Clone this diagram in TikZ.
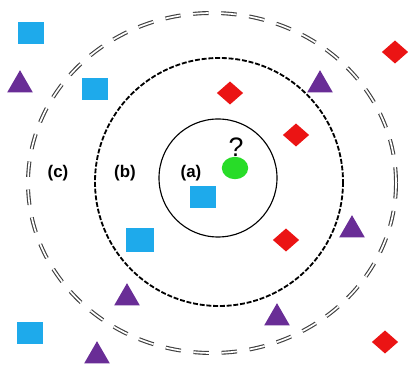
\documentclass[tikz,border=0pt]{standalone}
\usepackage{fontspec}
\setmainfont{Liberation Sans}
\usepackage{tikz}
\usetikzlibrary{shapes.geometric}

\definecolor{skyb}{RGB}{30,170,235}
\definecolor{redd}{RGB}{235,20,20}
\definecolor{purp}{RGB}{105,45,150}
\definecolor{limeg}{RGB}{40,220,40}

\tikzset{
  sq/.style={rectangle, fill=skyb, inner sep=0pt, minimum width=0.66cm, minimum height=0.56cm},
  dm/.style={diamond, fill=redd, inner sep=0pt, minimum width=0.66cm, minimum height=0.58cm},
  tri/.style={regular polygon, regular polygon sides=3, fill=purp, inner sep=0pt, minimum size=0.74cm},
  lbl/.style={font=\bfseries\large, inner sep=1pt}
}

\begin{document}
\begin{tikzpicture}[x=0.025cm, y=-0.025cm]
    \useasboundingbox (0,0) rectangle (408,365);

    % rings
    \draw[line width=0.8pt] (218,178) circle[radius=59];
    \draw[line width=1.3pt, dash pattern=on 3.5pt off 1.3pt] (219,182) circle[radius=124];
    \draw[black!75, line width=0.8pt, double, double distance=1.2pt, dash pattern=on 11pt off 9pt]
        (212,183) ellipse[x radius=184, y radius=170];

    % blue squares
    \node[sq] (sq1) at (31,33) {};
    \node[sq] (sq2) at (95,89) {};
    \node[sq] (sq3) at (203,197) {};
    \node[sq, minimum width=0.7cm, minimum height=0.6cm] (sq4) at (140,240) {};
    \node[sq] (sq5) at (30,333) {};

    % red diamonds
    \node[dm] (dm1) at (395,52) {};
    \node[dm] (dm2) at (230,93) {};
    \node[dm] (dm3) at (296,135) {};
    \node[dm] (dm4) at (286,240) {};
    \node[dm] (dm5) at (385,342) {};

    % purple triangles
    \node[tri] (tr1) at (20,85) {};
    \node[tri] (tr2) at (320,85) {};
    \node[tri] (tr3) at (352,230) {};
    \node[tri] (tr4) at (127,298) {};
    \node[tri] (tr5) at (277,318) {};
    \node[tri] (tr6) at (97,356) {};

    % query point
    \node[ellipse, fill=limeg, inner sep=0pt, minimum width=0.66cm, minimum height=0.56cm] (query) at (235,168) {};
    \node[font=\fontsize{19}{20}\selectfont, inner sep=0pt, anchor=base] (qmark) at (236,157) {?};

    % labels
    \node[lbl] (lblc) at (58,173) {(c)};
    \node[lbl] (lblb) at (125,173) {(b)};
    \node[lbl] (lbla) at (191,173) {(a)};
\end{tikzpicture}
\end{document}
